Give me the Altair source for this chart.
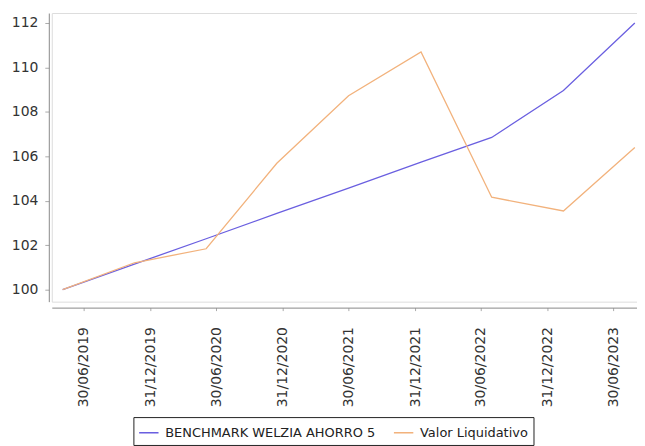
import altair as alt
import pandas as pd

dates = ["2019-05-03", "2019-11-17", "2020-06-02", "2020-12-14", "2021-06-30",
         "2022-01-16", "2022-07-30", "2023-02-13", "2023-08-29"]
benchmark = [100.0, 101.15, 102.29, 103.43, 104.57, 105.74, 106.85, 108.96, 112.0]
valor = [100.0, 101.21, 101.84, 105.69, 108.73, 110.70, 104.16, 103.54, 106.40]
series_names = ["BENCHMARK WELZIA AHORRO 5", "Valor Liquidativo"]
series_colors = ["#6a5fe0", "#f2b27c"]
y_ticks = [100, 102, 104, 106, 108, 110, 112]
x_ticks = ["2019-06-30", "2019-12-31", "2020-06-30", "2020-12-31", "2021-06-30",
           "2021-12-31", "2022-06-30", "2022-12-31", "2023-06-30"]

rows = []
for d, b, v in zip(dates, benchmark, valor):
    rows.append({"fecha": d + "T00:00:00", "serie": series_names[0], "valor": b})
    rows.append({"fecha": d + "T00:00:00", "serie": series_names[1], "valor": v})
df = pd.DataFrame(rows)


def dt(s):
    y, m, d = s.split("-")
    return alt.DateTime(year=int(y), month=int(m), date=int(d))


chart = alt.Chart(df).mark_line(strokeWidth=1.3).encode(
    x=alt.X("fecha:T",
            scale=alt.Scale(domain=[dt("2019-04-03"), dt("2023-09-04")]),
            axis=alt.Axis(values=[dt(s) for s in x_ticks], format="%d/%m/%Y",
                          labelAngle=270, labelAlign="right", labelBaseline="middle",
                          offset=6, tickSize=3, labelPadding=16, title=None,
                          grid=False, labelFontSize=14, labelColor="#333333",
                          domainColor="#888888", tickColor="#aaaaaa")),
    y=alt.Y("valor:Q",
            scale=alt.Scale(domain=[99.46, 112.45], nice=False, zero=False),
            axis=alt.Axis(values=y_ticks, offset=3, tickSize=4, labelPadding=7,
                          title=None, grid=False, labelFontSize=14,
                          labelColor="#333333", domainColor="#888888",
                          tickColor="#aaaaaa")),
    color=alt.Color("serie:N",
                    scale=alt.Scale(domain=series_names, range=series_colors),
                    legend=alt.Legend(title=None, orient="none", direction="horizontal",
                                      legendX=82, legendY=406, strokeColor="#222222",
                                      padding=5, symbolType="stroke",
                                      symbolSize=380, symbolStrokeWidth=1.5,
                                      labelFontSize=13, labelColor="#222222",
                                      labelLimit=400, columnPadding=14, labelOffset=6)),
).properties(
    width=588, height=290,
    padding={"left": 44, "top": 4, "right": 0, "bottom": 144},
    autosize=alt.AutoSizeParams(type="none"),
).configure_view(
    stroke="#888888", strokeWidth=1
).configure(
    font="DejaVu Sans"
)

chart.save("out.html", embed_options={"renderer": "svg", "actions": False})
